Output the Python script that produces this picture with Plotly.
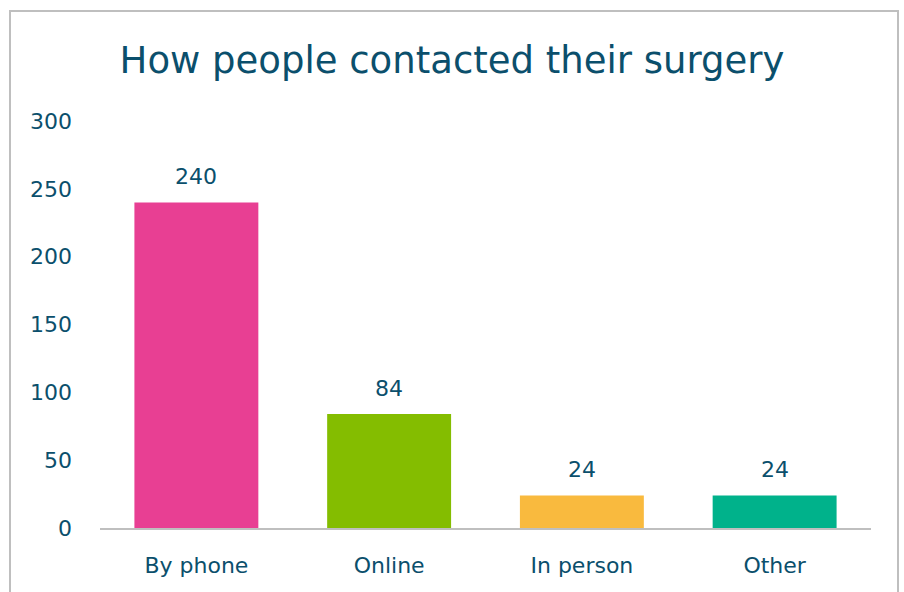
import plotly.graph_objects as go

categories = ["By phone", "Online", "In person", "Other"]
values = [240, 84, 24, 24]
colors = ["#E83F93", "#84BD00", "#F9BA3E", "#00B28B"]
tick_vals = [0, 50, 100, 150, 200, 250, 300]

text_color = "#0B4F6C"
font_family = "DejaVu Sans, Open Sans, sans-serif"

fig = go.Figure(go.Bar(x=categories, y=values, marker=dict(color=colors, line=dict(width=0)),
                       hoverinfo="skip"))

for c, v in zip(categories, values):
    fig.add_annotation(x=c, y=v, text=str(v), showarrow=False, yanchor="bottom",
                       yshift=11, font=dict(size=22, color=text_color, family=font_family))

L, R, T, B = 100, 33, 121, 64
W, H = 904, 592
pw, ph = W - L - R, H - T - B

fig.add_shape(type="rect", xref="paper", yref="paper",
              x0=(10 - L) / pw, x1=(898 - L) / pw,
              y0=-(H + 20 - T - ph) / ph, y1=(T + ph - 11) / ph,
              line=dict(color="#BFBFBF", width=2), fillcolor="rgba(0,0,0,0)", layer="below")

fig.update_layout(
    width=W, height=H,
    margin=dict(l=L, r=R, t=T, b=B),
    paper_bgcolor="white", plot_bgcolor="white",
    bargap=0.357,
    showlegend=False,
    title=dict(text="How people contacted their surgery", x=0.5, xanchor="center",
               y=1 - 60 / H, yanchor="middle",
               font=dict(size=37, color=text_color, family=font_family)),
    font=dict(family=font_family, color=text_color),
    xaxis=dict(showline=True, linecolor="#BFBFBF", linewidth=2, showgrid=False,
               ticks="", tickfont=dict(size=22, color=text_color), ticklabelstandoff=17),
    yaxis=dict(range=[0, 300], tickvals=tick_vals, showgrid=False, zeroline=False,
               showline=False, ticks="", tickfont=dict(size=22, color=text_color),
               ticklabelstandoff=27),
)

fig.write_html("out.html")
